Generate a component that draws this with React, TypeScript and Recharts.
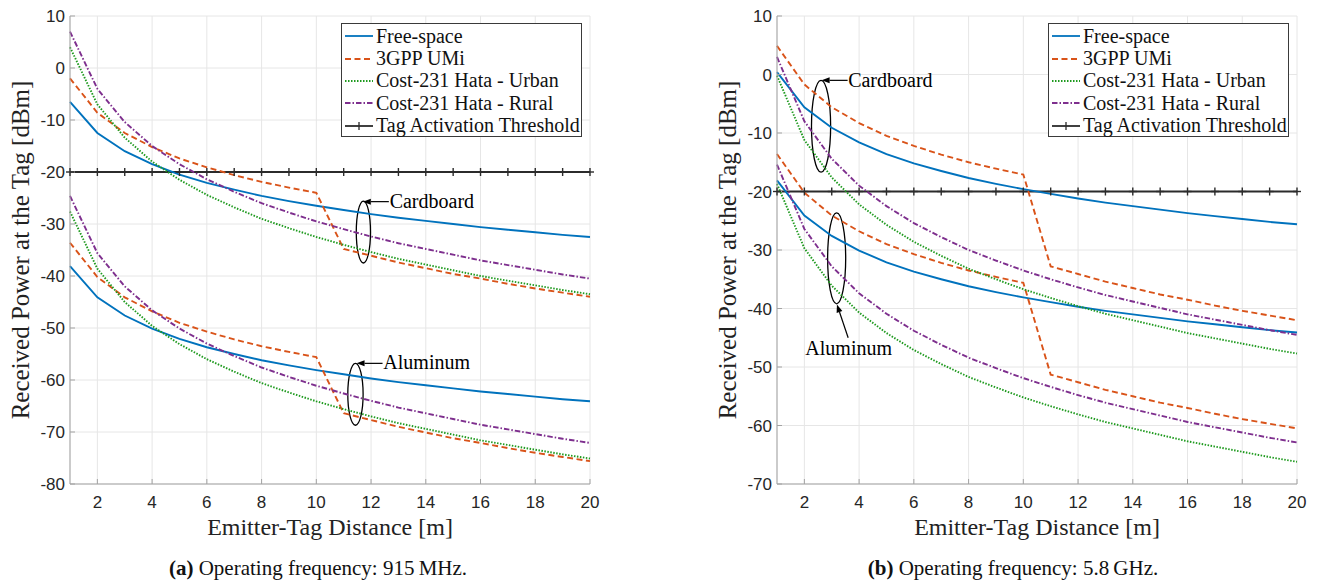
import React from "react";
import {
  LineChart,
  Line,
  XAxis,
  YAxis,
  CartesianGrid,
  ReferenceArea,
  ReferenceLine,
  ReferenceDot,
} from "recharts";

// emitter-tag distance [m]
const distances = [1, 2, 3, 4, 5, 6, 7, 8, 9, 10, 11, 12, 13, 14, 15, 16, 17, 18, 19, 20];
const xTicks = [2, 4, 6, 8, 10, 12, 14, 16, 18, 20];
const activationThreshold = [-20, -20, -20, -20, -20, -20, -20, -20, -20, -20, -20, -20, -20, -20, -20, -20, -20, -20, -20, -20];

// (a) 915 MHz, received power [dBm]
const fsCard915 = [-6.5, -12.5, -16.0, -18.5, -20.5, -22.1, -23.4, -24.6, -25.6, -26.5, -27.3, -28.1, -28.8, -29.4, -30.0, -30.6, -31.1, -31.6, -32.1, -32.5];
const fsAlu915 = [-38.1, -44.1, -47.6, -50.1, -52.1, -53.7, -55.0, -56.2, -57.2, -58.1, -58.9, -59.7, -60.4, -61.0, -61.6, -62.2, -62.7, -63.2, -63.7, -64.1];
const umiCard915 = [-2.0, -8.6, -12.5, -15.2, -17.4, -19.1, -20.6, -21.9, -23.0, -24.0, -34.8, -36.1, -37.4, -38.5, -39.6, -40.5, -41.5, -42.4, -43.2, -44.0];
const umiAlu915 = [-33.6, -40.2, -44.1, -46.8, -49.0, -50.7, -52.2, -53.5, -54.6, -55.6, -66.4, -67.7, -69.0, -70.1, -71.2, -72.1, -73.1, -74.0, -74.8, -75.6];
const urbCard915 = [4.0, -7.0, -13.4, -18.0, -21.5, -24.4, -26.8, -29.0, -30.8, -32.5, -34.0, -35.4, -36.7, -37.8, -38.9, -40.0, -40.9, -41.8, -42.7, -43.5];
const urbAlu915 = [-27.6, -38.6, -45.0, -49.6, -53.1, -56.0, -58.4, -60.6, -62.4, -64.1, -65.6, -67.0, -68.3, -69.4, -70.5, -71.6, -72.5, -73.4, -74.3, -75.1];
const rurCard915 = [7.0, -4.0, -10.4, -15.0, -18.5, -21.4, -23.8, -26.0, -27.8, -29.5, -31.0, -32.4, -33.7, -34.8, -35.9, -37.0, -37.9, -38.8, -39.7, -40.5];
const rurAlu915 = [-24.6, -35.6, -42.0, -46.6, -50.1, -53.0, -55.4, -57.6, -59.4, -61.1, -62.6, -64.0, -65.3, -66.4, -67.5, -68.6, -69.5, -70.4, -71.3, -72.1];

// (b) 5.8 GHz
const fsCard58 = [0.4, -5.6, -9.1, -11.6, -13.6, -15.2, -16.5, -17.7, -18.7, -19.6, -20.4, -21.2, -21.9, -22.5, -23.1, -23.7, -24.2, -24.7, -25.2, -25.6];
const fsAlu58 = [-18.1, -24.1, -27.6, -30.1, -32.1, -33.7, -35.0, -36.2, -37.2, -38.1, -38.9, -39.7, -40.4, -41.0, -41.6, -42.2, -42.7, -43.2, -43.7, -44.1];
const umiCard58 = [4.9, -1.7, -5.6, -8.3, -10.5, -12.2, -13.7, -15.0, -16.1, -17.1, -32.8, -34.1, -35.4, -36.5, -37.6, -38.5, -39.5, -40.4, -41.2, -42.0];
const umiAlu58 = [-13.6, -20.2, -24.1, -26.8, -29.0, -30.7, -32.2, -33.5, -34.6, -35.6, -51.3, -52.6, -53.9, -55.0, -56.1, -57.0, -58.0, -58.9, -59.7, -60.5];
const urbCard58 = [-0.2, -11.2, -17.6, -22.2, -25.7, -28.6, -31.0, -33.2, -35.0, -36.7, -38.2, -39.6, -40.9, -42.0, -43.1, -44.2, -45.1, -46.0, -46.9, -47.7];
const urbAlu58 = [-18.7, -29.7, -36.1, -40.7, -44.2, -47.1, -49.5, -51.7, -53.5, -55.2, -56.7, -58.1, -59.4, -60.5, -61.6, -62.7, -63.6, -64.5, -65.4, -66.2];
const rurCard58 = [3.0, -8.0, -14.4, -19.0, -22.5, -25.4, -27.8, -30.0, -31.8, -33.5, -35.0, -36.4, -37.7, -38.8, -39.9, -41.0, -41.9, -42.8, -43.7, -44.5];
const rurAlu58 = [-15.4, -26.4, -32.8, -37.4, -40.9, -43.8, -46.2, -48.4, -50.2, -51.9, -53.4, -54.8, -56.1, -57.2, -58.3, -59.4, -60.3, -61.2, -62.1, -62.9];

const yTicks915 = [-80, -70, -60, -50, -40, -30, -20, -10, 0, 10];
const yTicks58 = [-70, -60, -50, -40, -30, -20, -10, 0, 10];

const SERIF = '"Liberation Serif", "DejaVu Serif", "Noto Serif", Times, serif';
const SANS = '"Liberation Sans", Arial, sans-serif';
const AXIS = "#a3a3a3";
const TICK_TEXT = "#262626";
const THRESHOLD = "#2b2b2b";

const MODELS = [
  { name: "Free-space", keys: ["fs", "fsA"], color: "#0072BD", dash: undefined as string | undefined },
  { name: "3GPP UMi", keys: ["umi", "umiA"], color: "#D95319", dash: "6 3.5" },
  { name: "Cost-231 Hata - Urban", keys: ["urb", "urbA"], color: "#1f9a1f", dash: "1.5 1.5" },
  { name: "Cost-231 Hata - Rural", keys: ["rur", "rurA"], color: "#7E2F8E", dash: "5.5 2 1.5 2" },
];

function buildRows(series: Record<string, number[]>) {
  return distances.map((d, i) => {
    const row: Record<string, number> = { d, thr: activationThreshold[i] };
    for (const k of Object.keys(series)) row[k] = series[k][i];
    return row;
  });
}

const rows915 = buildRows({
  fs: fsCard915, fsA: fsAlu915, umi: umiCard915, umiA: umiAlu915,
  urb: urbCard915, urbA: urbAlu915, rur: rurCard915, rurA: rurAlu915,
});
const rows58 = buildRows({
  fs: fsCard58, fsA: fsAlu58, umi: umiCard58, umiA: umiAlu58,
  urb: urbCard58, urbA: urbAlu58, rur: rurCard58, rurA: rurAlu58,
});

// eslint-disable-next-line @typescript-eslint/no-explicit-any
function PlusDot(props: any) {
  const { cx, cy, index } = props;
  if (cx == null || cy == null) return <g key={`p-${index}`} />;
  return (
    <g key={`p-${index}`}>
      <line x1={cx} y1={cy - 4} x2={cx} y2={cy + 4} stroke={THRESHOLD} strokeWidth={1.4} />
      <line x1={cx - 4} y1={cy} x2={cx + 4} y2={cy} stroke={THRESHOLD} strokeWidth={1.4} />
    </g>
  );
}

// eslint-disable-next-line @typescript-eslint/no-explicit-any
function EllipseShape(p: any) {
  return (
    <ellipse
      cx={p.x + p.width / 2}
      cy={p.y + p.height / 2}
      rx={Math.abs(p.width) / 2}
      ry={Math.abs(p.height) / 2}
      fill="none"
      stroke="#000"
      strokeWidth={1.3}
    />
  );
}

// eslint-disable-next-line @typescript-eslint/no-explicit-any
function ArrowShape(p: any) {
  const { x1, y1, x2, y2 } = p;
  const a = Math.atan2(y2 - y1, x2 - x1);
  const L = 8;
  const W = 3;
  const bx = x2 - L * Math.cos(a);
  const by = y2 - L * Math.sin(a);
  const pts = [
    `${x2},${y2}`,
    `${bx + W * Math.sin(a)},${by - W * Math.cos(a)}`,
    `${bx - W * Math.sin(a)},${by + W * Math.cos(a)}`,
  ].join(" ");
  return (
    <g>
      <line x1={x1} y1={y1} x2={bx} y2={by} stroke="#000" strokeWidth={1.2} />
      <polygon points={pts} fill="#000" />
    </g>
  );
}

function noteText(text: string, anchor: "start" | "middle") {
  // eslint-disable-next-line @typescript-eslint/no-explicit-any
  return (p: any) => (
    <text
      x={p.cx}
      y={p.cy}
      textAnchor={anchor}
      dominantBaseline="central"
      style={{ fontFamily: SERIF }}
      fontSize={20}
      fill="#000"
    >
      {text}
    </text>
  );
}

interface Note {
  box: [number, number, number, number]; // x1, x2, y1, y2
  arrow: [number, number, number, number]; // from x,y to x,y
  text: string;
  at: [number, number];
  anchor: "start" | "middle";
}

const notes915: Note[] = [
  { box: [11.46, 11.98, -37.5, -25.6], arrow: [12.65, -25.7, 11.7, -25.7], text: "Cardboard", at: [12.68, -25.6], anchor: "start" },
  { box: [11.15, 11.71, -68.7, -56.8], arrow: [12.42, -56.8, 11.47, -56.8], text: "Aluminum", at: [12.45, -56.6], anchor: "start" },
];
const notes58: Note[] = [
  { box: [2.26, 2.96, -16.7, -1.0], arrow: [3.58, -1.0, 2.63, -1.0], text: "Cardboard", at: [3.6, -1.0], anchor: "start" },
  { box: [2.85, 3.51, -39.2, -23.65], arrow: [3.6, -45.0, 3.19, -39.3], text: "Aluminum", at: [3.62, -46.8], anchor: "middle" },
];

function LegendBox() {
  const sample = (color: string, dash?: string, plus?: boolean) => (
    <svg width={30} height={12} style={{ display: "block", flex: "none" }}>
      <line x1={1} y1={6} x2={29} y2={6} stroke={color} strokeWidth={1.8} strokeDasharray={dash} />
      {plus && <line x1={15} y1={2} x2={15} y2={10} stroke={color} strokeWidth={1.3} />}
    </svg>
  );
  const items = [
    ...MODELS.map((m) => ({ name: m.name, el: sample(m.color, m.dash) })),
    { name: "Tag Activation Threshold", el: sample(THRESHOLD, undefined, true) },
  ];
  return (
    <div
      style={{
        position: "absolute",
        left: 341,
        top: 23,
        width: 241,
        height: 114,
        border: "1px solid #3a3a3a",
        background: "#fff",
        boxSizing: "border-box",
        paddingTop: 1,
        paddingLeft: 2,
      }}
    >
      {items.map((it) => (
        <div key={it.name} style={{ display: "flex", alignItems: "center", height: 22.4 }}>
          {it.el}
          <span style={{ fontFamily: SERIF, fontSize: 20, color: "#111", marginLeft: 2, whiteSpace: "nowrap" }}>
            {it.name}
          </span>
        </div>
      ))}
    </div>
  );
}

interface PanelProps {
  left: number;
  rows: Record<string, number>[];
  yMin: number;
  yTicks: number[];
  notes: Note[];
  captionCenter: number;
  tag: string;
  freq: string;
}

function Panel({ left, rows, yMin, yTicks, notes, captionCenter, tag, freq }: PanelProps) {
  const tickFont = { fontSize: 17, fill: TICK_TEXT, fontFamily: SANS };
  return (
    <div style={{ position: "absolute", left, top: 0, width: 600, height: 581 }}>
      <LineChart width={600} height={540} data={rows} margin={{ top: 16, right: 10, bottom: 0, left: 8 }}>
        <CartesianGrid stroke="#e6e6e6" strokeWidth={1} />
        <XAxis
          dataKey="d"
          type="number"
          domain={[1, 20]}
          ticks={xTicks}
          interval={0}
          height={56}
          tickSize={-5}
          tickMargin={17}
          axisLine={{ stroke: AXIS }}
          tickLine={{ stroke: AXIS }}
          tick={tickFont}
          // eslint-disable-next-line @typescript-eslint/no-explicit-any
          label={(p: any) => (
            <text
              x={p.viewBox.x + p.viewBox.width / 2}
              y={p.viewBox.y + 43}
              textAnchor="middle"
              dominantBaseline="central"
              style={{ fontFamily: SERIF }}
              fontSize={24}
              fill="#222"
            >
              Emitter-Tag Distance [m]
            </text>
          )}
        />
        <XAxis
          xAxisId="top"
          orientation="top"
          type="number"
          domain={[1, 20]}
          ticks={xTicks}
          interval={0}
          height={0}
          tickSize={-5}
          tick={false}
          axisLine={{ stroke: AXIS }}
          tickLine={{ stroke: AXIS }}
        />
        <YAxis
          type="number"
          domain={[yMin, 10]}
          ticks={yTicks}
          interval={0}
          width={62}
          tickSize={-5}
          tickMargin={10}
          axisLine={{ stroke: AXIS }}
          tickLine={{ stroke: AXIS }}
          tick={tickFont}
          // eslint-disable-next-line @typescript-eslint/no-explicit-any
          label={(p: any) => {
            const cx = p.viewBox.x + 12;
            const cy = p.viewBox.y + p.viewBox.height / 2;
            return (
              <text
                x={cx}
                y={cy}
                transform={`rotate(-90, ${cx}, ${cy})`}
                textAnchor="middle"
                dominantBaseline="central"
                style={{ fontFamily: SERIF }}
                fontSize={25}
                fill="#222"
              >
                Received Power at the Tag [dBm]
              </text>
            );
          }}
        />
        <YAxis
          yAxisId="right"
          orientation="right"
          type="number"
          domain={[yMin, 10]}
          ticks={yTicks}
          interval={0}
          width={0}
          tickSize={-5}
          tick={false}
          axisLine={{ stroke: AXIS }}
          tickLine={{ stroke: AXIS }}
        />

        <Line
          dataKey="thr"
          stroke={THRESHOLD}
          strokeWidth={2}
          dot={PlusDot}
          isAnimationActive={false}
        />
        {MODELS.flatMap((m) =>
          m.keys.map((k) => (
            <Line
              key={k}
              dataKey={k}
              type="linear"
              stroke={m.color}
              strokeWidth={1.9}
              strokeDasharray={m.dash}
              dot={false}
              isAnimationActive={false}
            />
          ))
        )}

        {notes.map((n) => (
          <ReferenceArea
            key={`e-${n.text}`}
            x1={n.box[0]}
            x2={n.box[1]}
            y1={n.box[2]}
            y2={n.box[3]}
            ifOverflow="visible"
            shape={EllipseShape}
          />
        ))}
        {notes.map((n) => (
          <ReferenceLine
            key={`a-${n.text}`}
            segment={[
              { x: n.arrow[0], y: n.arrow[1] },
              { x: n.arrow[2], y: n.arrow[3] },
            ]}
            ifOverflow="visible"
            shape={ArrowShape}
          />
        ))}
        {notes.map((n) => (
          <ReferenceDot
            key={`t-${n.text}`}
            x={n.at[0]}
            y={n.at[1]}
            r={0}
            ifOverflow="visible"
            shape={noteText(n.text, n.anchor)}
          />
        ))}
      </LineChart>
      <LegendBox />
      <div
        style={{
          position: "absolute",
          top: 555,
          left: captionCenter - 250,
          width: 500,
          textAlign: "center",
          fontFamily: SERIF,
          fontSize: 21,
          lineHeight: "26px",
          color: "#111",
        }}
      >
        <b>{tag}</b> Operating frequency: {freq}.
      </div>
    </div>
  );
}

export default function App() {
  return (
    <div style={{ position: "absolute", left: 0, top: 0, width: 1323, height: 581, background: "#fff" }}>
      <Panel
        left={0}
        rows={rows915}
        yMin={-80}
        yTicks={yTicks915}
        notes={notes915}
        captionCenter={318}
        tag="(a)"
        freq={"915\u2009MHz"}
      />
      <Panel
        left={707}
        rows={rows58}
        yMin={-70}
        yTicks={yTicks58}
        notes={notes58}
        captionCenter={306}
        tag="(b)"
        freq={"5.8\u2009GHz"}
      />
    </div>
  );
}
